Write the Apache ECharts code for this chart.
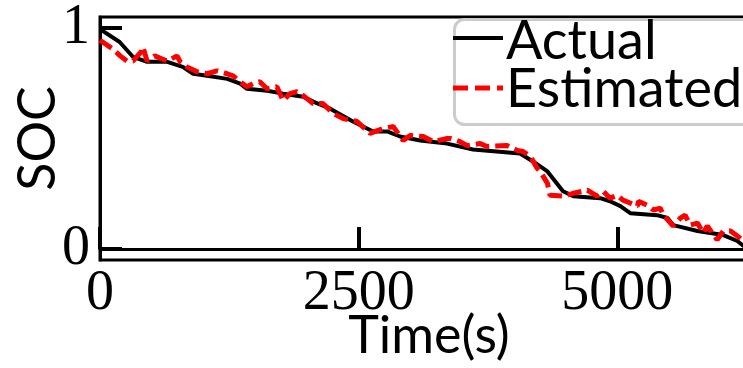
<!DOCTYPE html>
<html>
<head>
<meta charset="utf-8">
<script src="https://cdn.jsdelivr.net/npm/echarts@6/dist/echarts.min.js"></script>
<style>html,body{margin:0;padding:0;background:#fff;}#c{width:743px;height:368px;}</style>
</head>
<body>
<div id="c"></div>
<script>
// Actual SOC (black solid)
const actualTime = [0, 190, 320, 455, 650, 800, 900, 1035, 1230, 1355, 1420, 1615, 1770, 1965, 2060, 2225, 2445, 2640, 2775, 2900, 3095, 3355, 3605, 4060, 4185, 4325, 4475, 4575, 4835, 4930, 5030, 5125, 5385, 5485, 5540, 5775, 6025, 6160, 6220, 6300];
const actualSOC  = [0.995, 0.937, 0.869, 0.847, 0.847, 0.824, 0.793, 0.784, 0.77, 0.748, 0.725, 0.716, 0.703, 0.689, 0.667, 0.635, 0.577, 0.532, 0.532, 0.509, 0.491, 0.477, 0.45, 0.432, 0.396, 0.351, 0.261, 0.239, 0.23, 0.216, 0.194, 0.162, 0.153, 0.14, 0.108, 0.081, 0.063, 0.036, 0.014, 0.0];
// Estimated SOC (red dashed)
const estTime = [0, 125, 195, 260, 320, 405, 415, 455, 530, 600, 650, 745, 775, 840, 940, 1035, 1130, 1230, 1285, 1355, 1420, 1480, 1545, 1615, 1710, 1770, 1835, 1905, 1965, 2060, 2155, 2255, 2350, 2485, 2610, 2735, 2835, 2930, 3000, 3125, 3220, 3355, 3385, 3480, 3550, 3675, 3740, 3935, 4035, 4090, 4160, 4225, 4255, 4325, 4350, 4475, 4575, 4710, 4805, 4865, 4930, 5000, 5055, 5195, 5205, 5290, 5350, 5415, 5445, 5540, 5610, 5655, 5705, 5775, 5830, 5870, 5965, 6025, 6095, 6160, 6300];
const estSOC  = [0.945, 0.905, 0.874, 0.851, 0.851, 0.896, 0.914, 0.851, 0.874, 0.86, 0.851, 0.874, 0.847, 0.824, 0.802, 0.793, 0.806, 0.793, 0.784, 0.757, 0.734, 0.748, 0.757, 0.725, 0.734, 0.671, 0.703, 0.712, 0.694, 0.658, 0.658, 0.613, 0.59, 0.577, 0.523, 0.545, 0.554, 0.491, 0.514, 0.509, 0.486, 0.5, 0.5, 0.486, 0.468, 0.477, 0.464, 0.468, 0.446, 0.441, 0.419, 0.365, 0.351, 0.297, 0.243, 0.239, 0.252, 0.266, 0.239, 0.261, 0.23, 0.243, 0.221, 0.194, 0.216, 0.198, 0.176, 0.185, 0.153, 0.104, 0.14, 0.153, 0.108, 0.117, 0.072, 0.104, 0.041, 0.081, 0.081, 0.059, 0.005];
const xTicks = [0, 2500, 5000];
const yTicks = [0, 1];
const seriesNames = ['Actual', 'Estimated'];

const serif = '"Liberation Serif", serif';
const sans = 'Lato, "Open Sans", sans-serif';

const chart = echarts.init(document.getElementById('c'), null, {renderer: 'canvas'});
chart.setOption({
  animation: false,
  backgroundColor: '#fff',
  grid: {left: 100, top: 17, width: 658, height: 243, show: true, borderColor: '#000', borderWidth: 3,
         backgroundColor: 'transparent', containLabel: false, outerBoundsMode: 'none'},
  xAxis: {
    type: 'value', min: 0, max: 6360,
    name: 'Time(s)', nameLocation: 'middle', nameGap: 50, nameMoveOverlap: false,
    nameTextStyle: {fontFamily: sans, fontSize: 52, color: '#000'},
    axisLine: {show: true, lineStyle: {color: '#000', width: 3}},
    axisTick: {show: true, inside: true, length: 22, lineStyle: {color: '#000', width: 4}, customValues: xTicks},
    axisLabel: {fontFamily: serif, fontSize: 56, color: '#000', margin: 6, customValues: xTicks, formatter: v => String(v)},
    splitLine: {show: false}
  },
  yAxis: {
    type: 'value', min: -0.05, max: 1.05,
    name: 'SOC', nameLocation: 'middle', nameGap: 36, nameRotate: 90, nameMoveOverlap: false,
    nameTextStyle: {fontFamily: sans, fontSize: 52, color: '#000'},
    axisLine: {show: true, lineStyle: {color: '#000', width: 3}},
    axisTick: {show: true, inside: true, length: 22, lineStyle: {color: '#000', width: 4}, customValues: yTicks},
    axisLabel: {fontFamily: serif, fontSize: 56, color: '#000', margin: 10, customValues: yTicks, formatter: v => String(v)},
    splitLine: {show: false}
  },
  graphic: [
    {type: 'rect', left: 453, top: 18, z: 100,
     shape: {width: 330, height: 105, r: 10},
     style: {fill: 'rgba(255,255,255,0.85)', stroke: '#cccccc', lineWidth: 3}},
    {type: 'line', z: 101, shape: {x1: 453, y1: 38, x2: 503, y2: 38}, style: {stroke: '#000', lineWidth: 4}},
    {type: 'line', z: 101, shape: {x1: 453, y1: 88, x2: 503, y2: 88}, style: {stroke: '#ff0000', lineWidth: 5, lineDash: [15, 7]}},
    {type: 'text', z: 101, x: 506, y: 42, style: {text: seriesNames[0], font: '54px ' + sans, fill: '#000', verticalAlign: 'middle'}},
    {type: 'text', z: 101, x: 506, y: 90, style: {text: seriesNames[1], font: '54px ' + sans, fill: '#000', verticalAlign: 'middle'}}
  ],
  series: [
    {
      name: seriesNames[0], type: 'line', showSymbol: false, symbol: 'none',
      data: actualTime.map((t, i) => [t, actualSOC[i]]),
      lineStyle: {color: '#000', width: 4},
      itemStyle: {color: '#000'}, z: 2
    },
    {
      name: seriesNames[1], type: 'line', showSymbol: false, symbol: 'none',
      data: estTime.map((t, i) => [t, estSOC[i]]),
      lineStyle: {color: '#ff0000', width: 5, type: [14, 6]},
      itemStyle: {color: '#ff0000'}, z: 3
    }
  ]
});
</script>
</body>
</html>
